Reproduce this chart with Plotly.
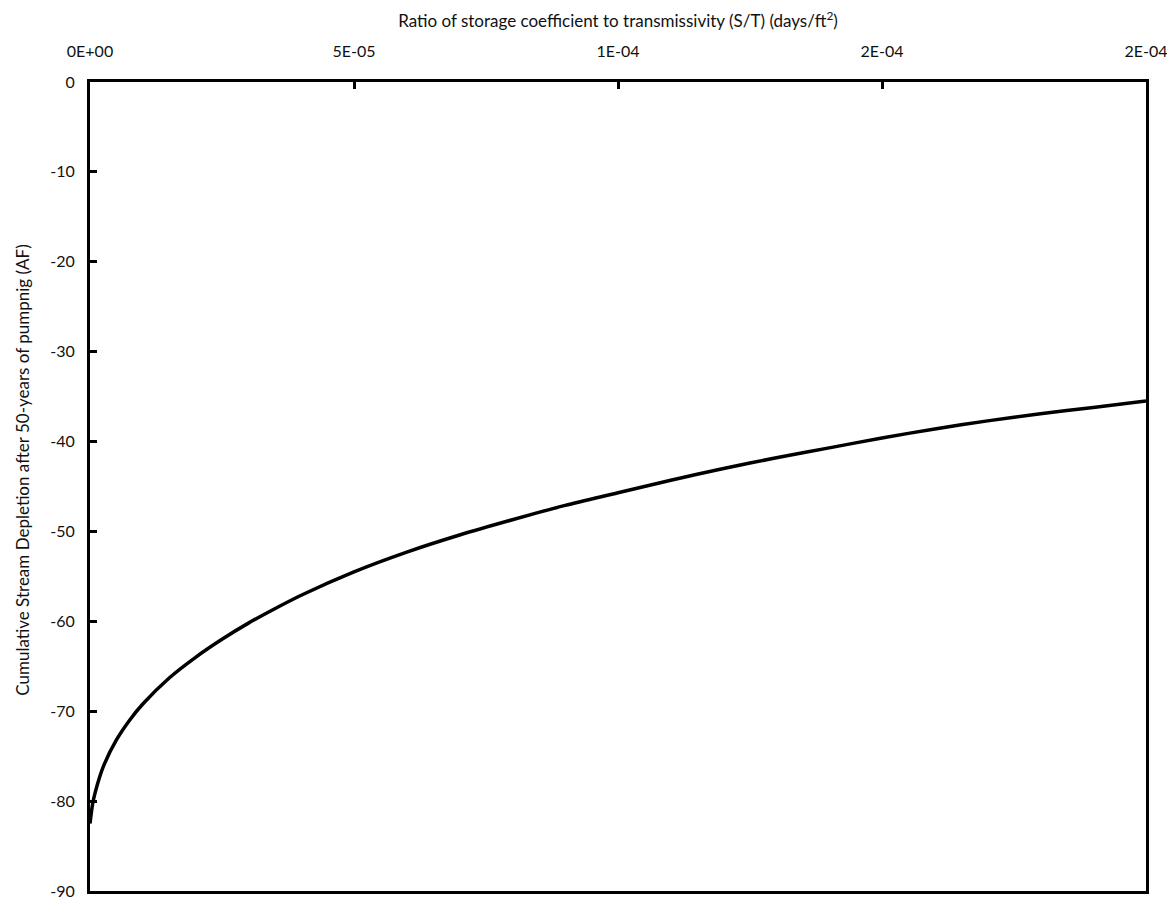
import plotly.graph_objects as go

# S/T ratio (days/ft^2)
st_ratio = [0, 0.05e-5, 0.1e-5, 0.25e-5, 0.5e-5, 0.75e-5, 1.0e-5, 1.5e-5, 2.0e-5,
            2.5e-5, 3.0e-5, 3.5e-5, 4.0e-5, 5.0e-5, 6.0e-5, 7.0e-5, 8.0e-5, 9.0e-5,
            10e-5, 11e-5, 12e-5, 13e-5, 14e-5, 15e-5, 16e-5, 17e-5, 18e-5, 19e-5, 20e-5]
# Cumulative stream depletion after 50 years (AF)
depletion = [-82.5, -80.3, -79.0, -76.2, -73.2, -71.0, -69.2, -66.3, -64.0,
             -62.0, -60.2, -58.6, -57.1, -54.5, -52.3, -50.4, -48.7, -47.1,
             -45.7, -44.3, -43.0, -41.8, -40.7, -39.6, -38.6, -37.7, -36.9, -36.2, -35.5]

x_tickvals = [0, 5e-5, 1e-4, 1.5e-4, 2e-4]
x_ticktext = ["0E+00", "5E-05", "1E-04", "2E-04", "2E-04"]
y_tickvals = [0, -10, -20, -30, -40, -50, -60, -70, -80, -90]
y_ticktext = ["0", "-10", "-20", "-30", "-40", "-50", "-60", "-70", "-80", "-90"]

font_family = "Lato, Open Sans, sans-serif"

fig = go.Figure()
fig.add_trace(go.Scatter(
    x=st_ratio, y=depletion, mode="lines",
    line=dict(color="black", width=3.5, shape="spline", smoothing=0.8),
    showlegend=False,
))

fig.update_layout(
    width=1167, height=899,
    margin=dict(l=82, r=27, t=74, b=7),
    paper_bgcolor="white", plot_bgcolor="white",
    font=dict(family=font_family, size=16, color="#111111"),
    xaxis=dict(
        side="top", range=[0, 2e-4],
        tickvals=x_tickvals, ticktext=x_ticktext,
        ticks="inside", ticklen=7, tickwidth=3, tickcolor="black",
        showgrid=False, zeroline=False,
        showline=True, linecolor="black", linewidth=3, mirror=True,
        ticklabelstandoff=16,
        title=dict(text="Ratio of storage coefficient to transmissivity (S/T) (days/ft<sup>2</sup>)",
                   font=dict(size=17), standoff=12),
    ),
    yaxis=dict(
        range=[-90, 0], tickvals=y_tickvals, ticktext=y_ticktext,
        ticks="inside", ticklen=7, tickwidth=3, tickcolor="black",
        showgrid=False, zeroline=False,
        showline=True, linecolor="black", linewidth=3, mirror=True,
        ticklabelstandoff=9,
    ),
    annotations=[dict(
        text="Cumulative Stream Depletion after 50-years of pumpnig (AF)",
        xref="paper", yref="paper", x=-0.064, y=0.52,
        xanchor="center", yanchor="middle", textangle=-90, showarrow=False,
        font=dict(size=17),
    )],
)

fig.write_html("out.html")
